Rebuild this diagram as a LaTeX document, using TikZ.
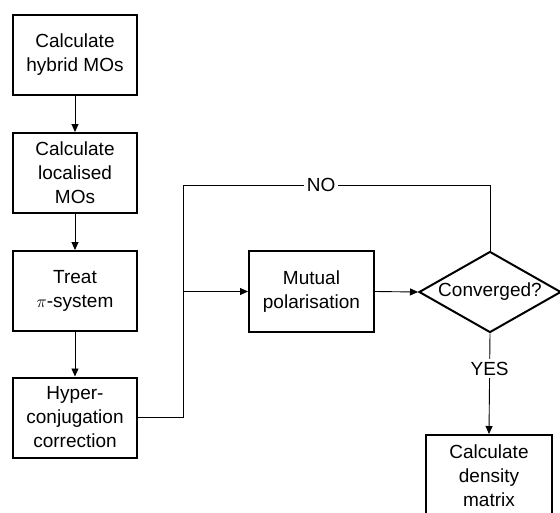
\documentclass[tikz,border=0pt]{standalone}
\usepackage{fontspec}
\setmainfont{Liberation Sans}
\usetikzlibrary{arrows.meta,shapes.geometric}
\begin{document}
\begin{tikzpicture}[x=1pt,y=-1pt,
  txt/.style={font=\fontsize{19}{24}\selectfont},
  box/.style={txt,draw,line width=2pt,minimum width=124pt,minimum height=80pt,align=center,inner sep=0pt},
  dec/.style={txt,draw,diamond,line width=2pt,aspect=1.75,minimum width=142pt,minimum height=81pt,inner sep=0pt},
  conn/.style={line width=0.9pt},
  arr/.style={conn,-{Triangle[length=8pt,width=7pt]}},
  lbl/.style={txt,fill=white,inner sep=3pt}]
\fill[white] (0,0) rectangle (560,512);
\useasboundingbox (0,0) rectangle (560,512);
\begin{scope}
\clip (0,0) rectangle (560,512);
\node[box] (b1) at (75,55) {Calculate\\hybrid MOs};
\node[box] (b2) at (75,173) {Calculate\\localised\\MOs};
\node[box] (b3) at (75,291) {Treat\\$\pi$-system};
\node[box] (b4) at (75,417.5) {Hyper-\\conjugation\\correction};
\node[box,minimum width=125pt,minimum height=81pt] (mp) at (311.5,291.5) {Mutual\\polarisation};
\node[dec] (cv) at (490,292) {Converged?};
\node[box,minimum width=126pt,minimum height=82pt] (dm) at (489,476) {Calculate\\density\\matrix};
\coordinate (tl) at (183,185);
\coordinate (tr) at (cv.north |- tl);
\draw[arr] (b1) -- (b2);
\draw[arr] (b2) -- (b3);
\draw[arr] (b3) -- (b4);
\draw[conn] (cv.north) -- (tr) -- node[lbl,pos=0.55] (no) {NO} (tl) -- (tl |- b4.east) -- (b4.east);
\draw[arr] (tl |- mp.west) -- (mp.west);
\draw[arr] (mp.east) -- (cv.west);
\draw[arr] (cv.south) -- node[lbl,pos=0.35] (yes) {YES} (dm.north);
\end{scope}
\end{tikzpicture}
\end{document}
